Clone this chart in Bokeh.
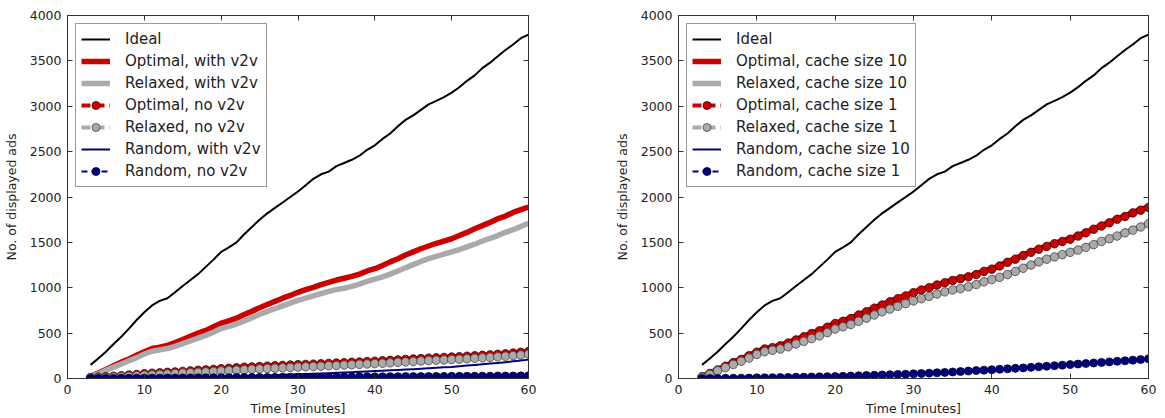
from bokeh.plotting import figure
from bokeh.models import Range1d, LinearAxis, FixedTicker, Legend, LegendItem, CustomLabelingPolicy
from bokeh.layouts import row
from bokeh.embed import file_html
from bokeh.resources import INLINE

# ---------------- data ----------------
minutes = [3, 4, 5, 6, 7, 8, 9, 10, 11, 12, 13, 14, 15, 16, 17, 18, 19, 20,
           21, 22, 23, 24, 25, 26, 27, 28, 29, 30, 31, 32, 33, 34, 35, 36, 37, 38, 39, 40,
           41, 42, 43, 44, 45, 46, 47, 48, 49, 50, 51, 52, 53, 54, 55, 56, 57, 58, 59, 60]

ideal = [150, 220, 295, 380, 460, 550, 645, 730, 805, 855, 885, 950, 1020, 1085, 1150, 1230, 1310, 1395,
         1445, 1500, 1590, 1670, 1750, 1820, 1880, 1940, 2000, 2060, 2130, 2200, 2250, 2280, 2340, 2375, 2410, 2455, 2520, 2570,
         2640, 2700, 2780, 2850, 2900, 2960, 3020, 3060, 3100, 3150, 3210, 3280, 3340, 3420, 3480, 3550, 3620, 3680, 3750, 3790]

optimal_v2v = [25, 60, 100, 140, 180, 215, 255, 295, 330, 345, 365, 395, 430, 465, 500, 530, 570, 610,
               635, 665, 705, 740, 780, 815, 850, 885, 915, 950, 980, 1005, 1035, 1060, 1085, 1105, 1125, 1150, 1185, 1210,
               1245, 1285, 1320, 1360, 1395, 1430, 1460, 1490, 1515, 1540, 1575, 1610, 1650, 1685, 1720, 1760, 1790, 1830, 1860, 1890]

relaxed_v2v = [20, 50, 90, 125, 160, 195, 230, 270, 300, 315, 330, 355, 385, 415, 445, 475, 510, 550,
               575, 600, 635, 670, 705, 740, 770, 800, 830, 860, 885, 910, 935, 960, 980, 995, 1015, 1040, 1070, 1095,
               1120, 1150, 1185, 1220, 1255, 1290, 1320, 1345, 1370, 1395, 1420, 1450, 1480, 1515, 1545, 1575, 1610, 1640, 1675, 1710]

optimal_no_v2v = [10, 15, 20, 25, 30, 38, 45, 52, 58, 62, 68, 72, 78, 84, 90, 95, 100, 108,
                  112, 118, 124, 128, 132, 136, 140, 144, 148, 152, 155, 158, 162, 166, 170, 174, 178, 182, 186, 190,
                  195, 200, 205, 210, 215, 220, 224, 228, 232, 236, 240, 245, 250, 255, 260, 266, 272, 280, 288, 298]

relaxed_no_v2v = [5, 8, 12, 16, 20, 25, 30, 36, 40, 45, 50, 55, 60, 64, 68, 73, 78, 84,
                  88, 92, 97, 102, 106, 110, 114, 118, 122, 126, 129, 132, 136, 140, 144, 148, 152, 156, 160, 164,
                  168, 173, 178, 183, 188, 193, 197, 201, 205, 209, 213, 218, 223, 228, 233, 239, 245, 252, 259, 268]

random_v2v = [0, 1, 2, 3, 4, 5, 6, 7, 8, 9, 10, 11, 12, 14, 15, 17, 19, 21,
              23, 25, 27, 29, 31, 34, 37, 40, 43, 46, 49, 52, 55, 58, 62, 66, 70, 74, 78, 82,
              86, 90, 94, 98, 103, 108, 113, 118, 123, 128, 135, 142, 149, 156, 164, 172, 180, 189, 198, 208]

random_no_v2v = [0, 0, 1, 1, 2, 2, 3, 3, 4, 4, 5, 5, 6, 6, 7, 7, 8, 9,
                 9, 10, 10, 11, 11, 12, 12, 13, 13, 14, 14, 15, 15, 16, 16, 17, 17, 18, 18, 19,
                 19, 20, 20, 21, 21, 22, 22, 23, 23, 24, 24, 25, 25, 26, 26, 27, 27, 28, 29, 30]

optimal_c10 = optimal_v2v
relaxed_c10 = relaxed_v2v

optimal_c1 = [20, 55, 95, 135, 175, 210, 250, 290, 325, 340, 360, 390, 425, 460, 495, 525, 565, 605,
              630, 660, 700, 735, 775, 810, 845, 880, 910, 945, 975, 1000, 1030, 1055, 1080, 1100, 1120, 1145, 1180, 1205,
              1240, 1280, 1315, 1355, 1390, 1425, 1455, 1485, 1510, 1535, 1570, 1605, 1645, 1680, 1715, 1755, 1785, 1825, 1855, 1885]

relaxed_c1 = [15, 45, 85, 120, 155, 190, 225, 265, 295, 310, 325, 350, 380, 410, 440, 470, 505, 545,
              570, 595, 630, 665, 700, 735, 765, 795, 825, 855, 880, 905, 930, 955, 975, 990, 1010, 1035, 1065, 1090,
              1115, 1145, 1180, 1215, 1250, 1285, 1315, 1340, 1365, 1390, 1415, 1445, 1475, 1510, 1540, 1570, 1605, 1635, 1670, 1705]

random_c10 = [0, 1, 2, 3, 4, 5, 6, 8, 9, 10, 12, 13, 15, 16, 18, 19, 21, 23,
              25, 28, 31, 34, 37, 40, 43, 46, 49, 52, 56, 60, 64, 68, 73, 78, 83, 88, 93, 98,
              103, 108, 113, 118, 124, 130, 136, 142, 148, 154, 160, 166, 172, 178, 184, 190, 196, 203, 210, 218]

random_c1 = [0, 0, 1, 2, 3, 4, 5, 7, 8, 9, 11, 12, 14, 15, 17, 18, 20, 22,
             24, 27, 30, 33, 36, 39, 42, 45, 48, 51, 55, 59, 63, 67, 72, 77, 82, 87, 92, 97,
             102, 107, 112, 117, 123, 129, 135, 141, 147, 153, 159, 165, 171, 177, 183, 189, 195, 202, 209, 217]

x_ticks = [0, 10, 20, 30, 40, 50, 60]
y_ticks = [0, 500, 1000, 1500, 2000, 2500, 3000, 3500, 4000]

labels_left = ["Ideal", "Optimal, with v2v", "Relaxed, with v2v", "Optimal, no v2v",
               "Relaxed, no v2v", "Random, with v2v", "Random, no v2v"]
labels_right = ["Ideal", "Optimal, cache size 10", "Relaxed, cache size 10", "Optimal, cache size 1",
                "Relaxed, cache size 1", "Random, cache size 10", "Random, cache size 1"]

# ---------------- style ----------------
FONT = "DejaVu Sans"
RED = "#cc0000"
GRAY = "#aaaaaa"
NAVY = "#000080"
FRAME = "#333333"
TEXT = "#222222"

HIDE_LABELS = """
const n = indices.size
for (let i = 0; i < n; i++) { indices.unset(i) }
return indices
"""


def make_fig(width, bl, br, series, labels):
    p = figure(width=width, height=418, output_backend="svg", toolbar_location=None,
               x_range=Range1d(0, 60), y_range=Range1d(0, 4000),
               min_border_left=bl, min_border_right=br, min_border_top=15, min_border_bottom=38)
    p.grid.visible = False
    p.outline_line_color = FRAME
    p.background_fill_color = "white"

    xa = p.xaxis[0]
    ya = p.yaxis[0]
    xa.ticker = FixedTicker(ticks=x_ticks)
    ya.ticker = FixedTicker(ticks=y_ticks)
    for ax in (xa, ya):
        ax.major_tick_in = 5
        ax.major_tick_out = 0
        ax.major_tick_line_color = FRAME
        ax.minor_tick_line_color = None
        ax.axis_line_color = FRAME
        ax.major_label_text_font = FONT
        ax.major_label_text_color = TEXT
        ax.major_label_text_font_size = "12.5px"
        ax.axis_label_text_font = FONT
        ax.axis_label_text_color = TEXT
        ax.axis_label_text_font_style = "normal"
        ax.axis_label_text_font_size = "12.5px"
    xa.axis_label = "Time [minutes]"
    xa.major_label_standoff = 6
    xa.axis_label_standoff = 4
    ya.axis_label = "No. of displayed ads"
    ya.major_label_standoff = 6
    ya.axis_label_standoff = 8

    top = LinearAxis(ticker=FixedTicker(ticks=x_ticks))
    right = LinearAxis(ticker=FixedTicker(ticks=y_ticks))
    for ax in (top, right):
        ax.major_tick_in = 5
        ax.major_tick_out = 0
        ax.major_tick_line_color = FRAME
        ax.minor_tick_line_color = None
        ax.axis_line_color = FRAME
        ax.major_label_text_font_size = "1px"
        ax.major_label_standoff = 0
        ax.major_label_policy = CustomLabelingPolicy(code=HIDE_LABELS)
    p.add_layout(top, "above")
    p.add_layout(right, "right")

    ideal_y, opt_y, rel_y, opt2_y, rel2_y, rnd_y, rnd2_y = series

    r_ideal = p.line(minutes, ideal_y, line_color="black", line_width=2, line_join="round")
    r_opt = p.line(minutes, opt_y, line_color=RED, line_width=5.5, line_join="round")
    r_rel = p.line(minutes, rel_y, line_color=GRAY, line_width=5.5, line_join="round")
    r_opt2_l = p.line(minutes, opt2_y, line_color=RED, line_width=4, line_dash="9 5")
    r_opt2_m = p.scatter(minutes, opt2_y, size=8.5, fill_color=RED, line_color="#3a0000", line_width=0.8)
    r_rel2_l = p.line(minutes, rel2_y, line_color=GRAY, line_width=4, line_dash="9 5")
    r_rel2_m = p.scatter(minutes, rel2_y, size=8.5, fill_color=GRAY, line_color="#444444", line_width=0.8)
    r_rnd = p.line(minutes, rnd_y, line_color=NAVY, line_width=2, line_join="round")
    r_rnd2_l = p.line(minutes, rnd2_y, line_color=NAVY, line_width=2, line_dash="6 4")
    r_rnd2_m = p.scatter(minutes, rnd2_y, size=8, fill_color=NAVY, line_color="#000030", line_width=0.8)

    items = [
        LegendItem(label=labels[0], renderers=[r_ideal]),
        LegendItem(label=labels[1], renderers=[r_opt]),
        LegendItem(label=labels[2], renderers=[r_rel]),
        LegendItem(label=labels[3], renderers=[r_opt2_l, r_opt2_m]),
        LegendItem(label=labels[4], renderers=[r_rel2_l, r_rel2_m]),
        LegendItem(label=labels[5], renderers=[r_rnd]),
        LegendItem(label=labels[6], renderers=[r_rnd2_l, r_rnd2_m]),
    ]
    leg = Legend(items=items, location="top_left")
    leg.margin = 8
    leg.padding = 5
    leg.spacing = 2
    leg.label_height = 20
    leg.glyph_height = 20
    leg.glyph_width = 29
    leg.label_standoff = 15
    leg.label_text_font = FONT
    leg.label_text_font_size = "15px"
    leg.label_text_color = TEXT
    leg.border_line_color = FRAME
    leg.border_line_width = 1
    leg.background_fill_color = "white"
    leg.background_fill_alpha = 1.0
    p.add_layout(leg)
    return p


p1 = make_fig(592, 57, 64,
              (ideal, optimal_v2v, relaxed_v2v, optimal_no_v2v, relaxed_no_v2v, random_v2v, random_no_v2v),
              labels_left)
p2 = make_fig(565, 86, 9,
              (ideal, optimal_c10, relaxed_c10, optimal_c1, relaxed_c1, random_c10, random_c1),
              labels_right)

layout = row(p1, p2)
open("out.html", "w").write(file_html(layout, INLINE))
